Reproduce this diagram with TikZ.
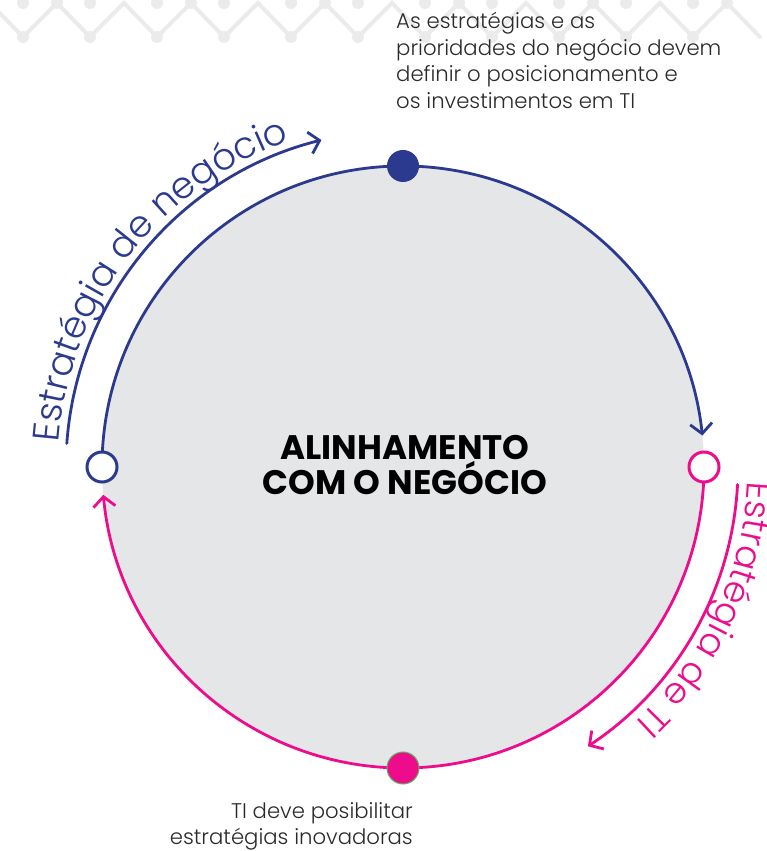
\documentclass[tikz,border=0pt]{standalone}
\usepackage{fontspec}
\setmainfont{Poppins}
\newfontfamily\lightfont{Poppins Light}
\usetikzlibrary{arrows.meta,decorations.text,calc}
\definecolor{negocio}{HTML}{2B3A8F}
\definecolor{ti}{HTML}{EC0C8C}
\definecolor{disco}{HTML}{E5E6E8}
\definecolor{trama}{HTML}{EBEBEB}
\definecolor{verde}{HTML}{5CB85C}
\definecolor{texto}{HTML}{2A2A2A}
\tikzset{
  ring/.style={line width=2.8pt},
  dot/.style={circle, inner sep=0pt, minimum size=32pt},
  hollow/.style={circle, fill=white, line width=3pt, inner sep=0pt, minimum size=30pt},
  note/.style={font=\lightfont\fontsize{21.2}{26.7}\selectfont, text=texto, inner sep=0pt},
  titulo/.style={font=\bfseries\fontsize{34}{35}\selectfont, align=center, inner sep=0pt},
}
\begin{document}
\begin{tikzpicture}[x=1pt, y=1pt, >={Straight Barb[length=10pt,width=22pt]}, line cap=round]
  \useasboundingbox (0,0) rectangle (767,851);
  \coordinate (C) at (403,384);
  \foreach \i in {0,...,5} {
    \draw[trama, line width=4pt] (\i*134-44,814) -- (\i*134-10,848) -- (\i*134+23,814) -- (\i*134+57,848) -- (\i*134+90,814);
    \foreach \p in {(\i*134-44,814),(\i*134+23,814),(\i*134+57,848),(\i*134-44,848),(\i*134+23,848)}
      \fill[trama] \p circle (6);
  }
  \fill[disco] (C) circle (301);
  \draw[negocio, ring, ->] ($(C)+(180:301)$) arc (180:6:301);
  \draw[ti, ring, ->] ($(C)+(0:301)$) arc (0:-174.7:301);
  \draw[negocio, ring, ->] ($(C)+(176:337)$) arc (176:104:337);
  \draw[ti, ring, ->] ($(C)+(-3:335)$) arc (-3:-56.5:335);
  \node[dot, fill=negocio] (topo) at ($(C)+(90:301)$) {};
  \node[dot, fill=ti, draw=verde, line width=1pt] (base) at ($(C)+(-90:301)$) {};
  \node[hollow, draw=negocio] (esq) at ($(C)+(180:301)$) {};
  \node[hollow, draw=ti] (dir) at ($(C)+(0:301)$) {};
  \path[decorate, decoration={text along path, text align=center, text color=negocio,
    text={|\lightfont\fontsize{37}{40}\selectfont|Estratégia de negócio}}] ($(C)+(191:345)$) arc (191:94:345);
  \path[decorate, decoration={text along path, text align=center, text color=ti,
    text={|\lightfont\fontsize{36}{40}\selectfont|Estratégia de TI}}] ($(C)+(21:345)$) arc (21:-71:345);
  \node[note, anchor=north west, align=left] (prioridades) at (396,839) {As estratégias e as\\prioridades do negócio devem\\definir o posicionamento e\\os investimentos em TI};
  \node[note, anchor=north east, align=right] (inovacao) at (413,49) {TI deve posibilitar\\estratégias inovadoras};
  \node[titulo] (centro) at (405,386) {ALINHAMENTO\\COM O NEGÓCIO};
\end{tikzpicture}
\end{document}
